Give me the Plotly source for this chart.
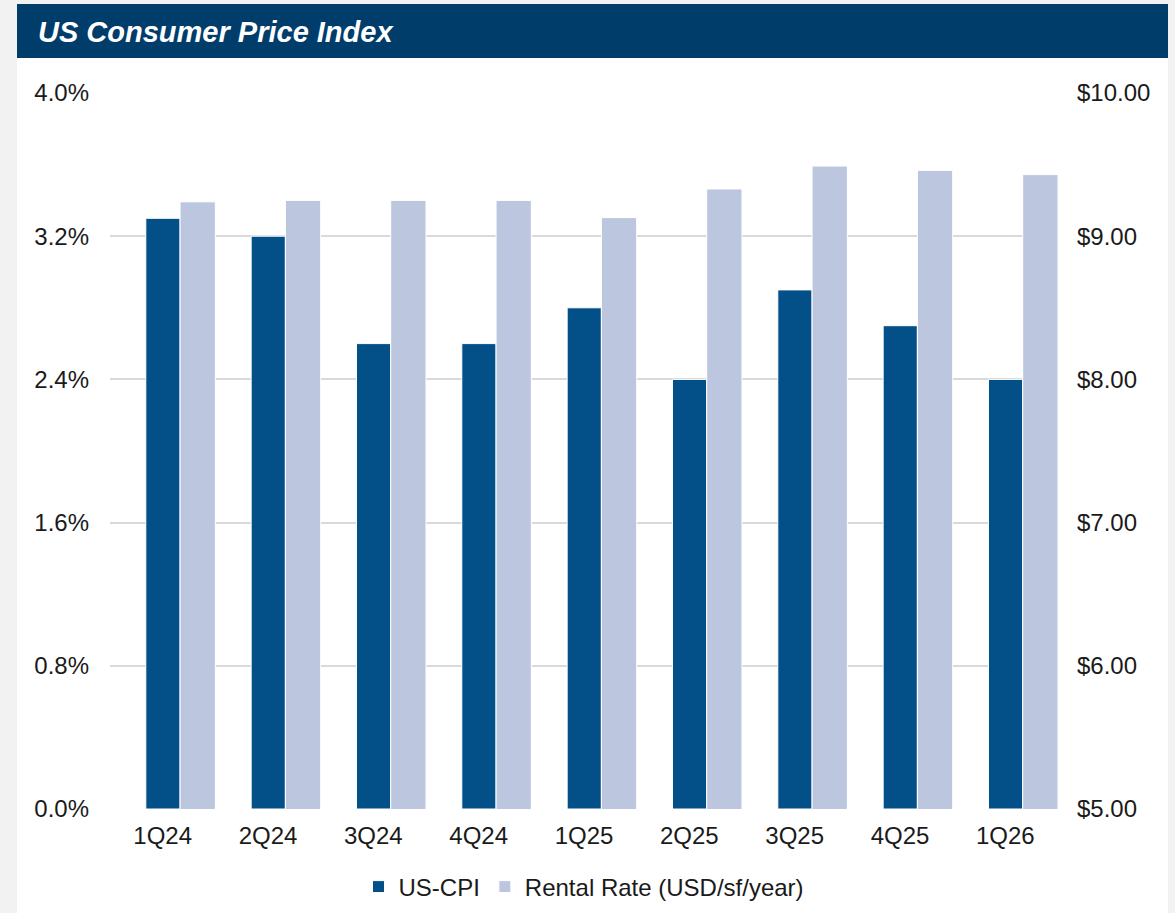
import plotly.graph_objects as go

quarters = ["1Q24", "2Q24", "3Q24", "4Q24", "1Q25", "2Q25", "3Q25", "4Q25", "1Q26"]
us_cpi = [0.033, 0.032, 0.026, 0.026, 0.028, 0.024, 0.029, 0.027, 0.024]
rental_rate = [9.24, 9.25, 9.25, 9.25, 9.13, 9.33, 9.49, 9.46, 9.43]

fig = go.Figure()
fig.add_trace(go.Bar(
    x=quarters, y=us_cpi, name="US-CPI",
    marker=dict(color="#034f87", line=dict(color="white", width=1)),
    width=0.325, offset=-0.16, yaxis="y",
))
fig.add_trace(go.Bar(
    x=quarters, y=rental_rate, name="Rental Rate (USD/sf/year)",
    marker=dict(color="#bcc7df", line=dict(color="white", width=1)),
    width=0.335, offset=0.165, yaxis="y2",
))

W, H = 1175, 913
L, R, T, B = 110, 117, 93, 104
pw, ph = W - L - R, H - T - B

def px_x(x):
    return (x - L) / pw

def px_y(y):
    return (H - B - y) / ph

fig.update_layout(
    width=W, height=H,
    margin=dict(l=L, r=R, t=T, b=B, autoexpand=False),
    paper_bgcolor="#f2f2f2",
    plot_bgcolor="white",
    font=dict(family="Liberation Sans, Arial, sans-serif", size=24, color="#1a1a1a"),
    barmode="overlay",
    xaxis=dict(showgrid=False, ticks="", showline=False, range=[-0.5, 8.5],
               ticklabelstandoff=10),
    yaxis=dict(range=[0, 0.04], dtick=0.008, tickformat=".1%", showgrid=True,
               gridcolor="#d9d9d9", gridwidth=2, zeroline=False, ticks="",
               ticklabelstandoff=20),
    yaxis2=dict(range=[5, 10], dtick=1, tickprefix="$", tickformat=".2f",
                overlaying="y", side="right", showgrid=False, zeroline=False,
                ticks="", ticklabelstandoff=18),
    legend=dict(orientation="h", x=0.5, xanchor="center", y=px_y(887),
                yanchor="middle", font=dict(size=24), bgcolor="rgba(0,0,0,0)",
                itemwidth=30, traceorder="normal"),
    showlegend=True,
    shapes=[
        dict(type="rect", xref="paper", yref="paper", layer="below",
             x0=px_x(17), x1=px_x(1168), y0=px_y(913), y1=px_y(4),
             fillcolor="white", line=dict(width=0)),
        dict(type="rect", xref="paper", yref="paper",
             x0=px_x(17), x1=px_x(1168), y0=px_y(58), y1=px_y(4),
             fillcolor="#003d6b", line=dict(width=0)),
    ],
    annotations=[
        dict(text="<b><i>US Consumer Price Index</i></b>", xref="paper", yref="paper",
             x=px_x(36), y=px_y(32), xanchor="left", yanchor="middle",
             showarrow=False, font=dict(size=29, color="white")),
    ],
)

fig.write_html("out.html", config={"displayModeBar": False},
               post_script="document.body.style.margin='0';")
